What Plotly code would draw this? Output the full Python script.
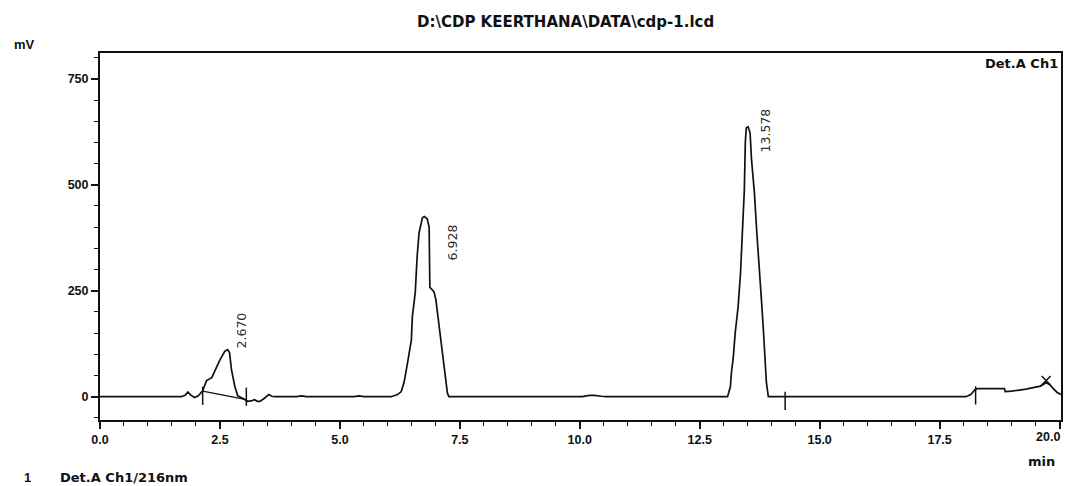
import numpy as np
import plotly.graph_objects as go

# chromatogram trace (time in min, signal in mV)
time_min = [0, 1.7, 1.78, 1.83, 1.9, 1.97, 2.05, 2.14, 2.22, 2.33, 2.43, 2.5, 2.6, 2.66, 2.7, 2.74,
            2.81, 2.87, 2.94, 3.0, 3.08, 3.15, 3.22, 3.28, 3.33, 3.4, 3.47, 3.52, 3.58, 3.65,
            4.1, 4.2, 4.3, 5.3, 5.4, 5.5,
            6.07, 6.2, 6.28, 6.34, 6.41, 6.49, 6.51, 6.57, 6.61, 6.65, 6.72, 6.76, 6.82, 6.86,
            6.875, 6.9, 6.96, 7.0, 7.07, 7.13, 7.19, 7.24, 7.27,
            10.05, 10.2, 10.3, 10.45, 10.55,
            13.08, 13.14, 13.16, 13.2, 13.24, 13.3, 13.35, 13.39, 13.43, 13.45, 13.47, 13.51,
            13.55, 13.58, 13.64, 13.69, 13.74, 13.79, 13.83, 13.86, 13.89, 13.93,
            18.05, 18.15, 18.23, 18.28, 18.85, 18.87, 19.0, 19.3, 19.6, 19.72, 19.8, 19.88,
            19.95, 20.03]
signal_mv = [0, 0, 4, 11, 3, -2, 2, 14, 38, 45, 70, 87, 107, 111, 104, 64,
             24, 2, -2, -6, -11, -10, -7, -11, -11, -6, 0, 5, 1, 0,
             0, 2, 0, 0, 2, 0,
             0, 5, 12, 35, 80, 134, 189, 245, 330, 387, 422, 425, 420, 400,
             258, 255, 248, 229, 165, 104, 57, 9, 0,
             0, 3, 3, 1, 0,
             0, 24, 56, 94, 151, 212, 292, 387, 488, 599, 634, 637,
             622, 559, 481, 387, 292, 222, 151, 87, 33, 0,
             0, 5, 16, 19, 19, 12, 13, 18, 25, 33, 28, 18,
             10, 5]

# peak retention times (labels)
peak_rt = [2.670, 6.928, 13.578]
peak_labels = ["2.670", "6.928", "13.578"]

# integration baseline drop for first peak
base_time = [2.14, 3.05]
base_mv = [13, -7]

# integration event marks
event_time = [2.14, 3.05, 14.28, 18.25]
event_mv = [2, 0, -10, 3]
end_mark_time = [19.72]
end_mark_mv = [38]

x_tickvals = [0.0, 2.5, 5.0, 7.5, 10.0, 12.5, 15.0, 17.5, 20.0]
y_tickvals = [0, 250, 500, 750]

FONT = "Liberation Sans, Arial, sans-serif"
WIDE = "DejaVu Sans, Verdana, sans-serif"
INK = "#111111"

fig = go.Figure()
fig.add_trace(go.Scatter(x=time_min, y=signal_mv, mode="lines",
                         line=dict(color=INK, width=1.7), showlegend=False, hoverinfo="skip"))
fig.add_trace(go.Scatter(x=base_time, y=base_mv, mode="lines",
                         line=dict(color=INK, width=1.2), showlegend=False, hoverinfo="skip"))
fig.add_trace(go.Scatter(x=event_time, y=event_mv, mode="markers",
                         marker=dict(symbol="line-ns", size=13, line=dict(color=INK, width=1.5)),
                         showlegend=False, hoverinfo="skip"))
fig.add_trace(go.Scatter(x=end_mark_time, y=end_mark_mv, mode="markers",
                         marker=dict(symbol="x-thin", size=9, line=dict(color=INK, width=1.5)),
                         showlegend=False, hoverinfo="skip"))

label_shift = [(13, 0), (20, 28), (14, 4)]
for rt, lab, (dx, dy) in zip(peak_rt, peak_labels, label_shift):
    yv = float(np.interp(rt, time_min, signal_mv))
    fig.add_annotation(x=rt, y=yv, text=lab, textangle=-90, showarrow=False,
                       xanchor="center", yanchor="bottom", xshift=dx, yshift=dy,
                       font=dict(family=WIDE, size=12.5, color="#2a2a2a"))

# tick text for x; the last label is drawn right-aligned at the edge like the reference
x_ticktext = ["<b>%.1f</b>" % v for v in x_tickvals]
last_label = x_ticktext[-1]
x_ticktext[-1] = ""

TXT = dict(family=FONT, size=13, color=INK)
WTXT = dict(family=WIDE, size=13, color=INK)
fig.add_annotation(xref="paper", x=1, y=0, yref="paper", yshift=-17, xshift=1, text=last_label,
                   showarrow=False, xanchor="right", yanchor="middle",
                   font=dict(family=FONT, size=12.5, color=INK))
fig.add_annotation(xref="paper", yref="paper", x=0.5, y=1, yshift=31, xshift=-15,
                   text="<b>D:\\CDP KEERTHANA\\DATA\\cdp-1.lcd</b>",
                   showarrow=False, xanchor="center", yanchor="middle",
                   font=dict(family=WIDE, size=15, color=INK))
fig.add_annotation(xref="paper", yref="paper", x=0, y=1, xshift=-76, yshift=9, text="<b>mV</b>",
                   showarrow=False, xanchor="center", yanchor="middle", font=TXT)
fig.add_annotation(xref="paper", yref="paper", x=1, y=0, xshift=-4, yshift=-41, text="<b>min</b>",
                   showarrow=False, xanchor="right", yanchor="middle", font=WTXT)
fig.add_annotation(xref="paper", yref="paper", x=1, y=1, xshift=-1, yshift=-10, text="<b>Det.A Ch1</b>",
                   showarrow=False, xanchor="right", yanchor="middle", font=WTXT)
fig.add_annotation(xref="paper", yref="paper", x=0, y=0, xshift=-78, yshift=-57, text="<b>1</b>",
                   showarrow=False, xanchor="left", yanchor="middle", font=TXT)
fig.add_annotation(xref="paper", yref="paper", x=0, y=0, xshift=-42, yshift=-57, text="<b>Det.A Ch1/216nm</b>",
                   showarrow=False, xanchor="left", yanchor="middle", font=WTXT)

fig.update_layout(
    width=1065, height=486,
    margin=dict(l=100, r=2, t=53, b=66),
    paper_bgcolor="white", plot_bgcolor="white",
    font=dict(family=FONT, size=12, color=INK),
)
fig.update_xaxes(range=[0, 20.03], showgrid=False, zeroline=False,
                 showline=True, linecolor=INK, linewidth=2, mirror=True,
                 ticks="outside", ticklen=7, tickwidth=1.5, tickcolor=INK,
                 tickvals=x_tickvals, ticktext=x_ticktext,
                 tickfont=dict(family=FONT, size=12.5, color=INK),
                 minor=dict(dtick=0.5, ticks="outside", ticklen=4, tickwidth=1.2, tickcolor=INK))
fig.update_yaxes(range=[-55, 811], showgrid=False, zeroline=False,
                 showline=True, linecolor=INK, linewidth=2, mirror=True,
                 ticks="outside", ticklen=7, tickwidth=1.5, tickcolor=INK,
                 tickvals=y_tickvals, ticktext=["<b>%d</b>" % v for v in y_tickvals],
                 tickfont=dict(family=FONT, size=12.5, color=INK),
                 minor=dict(dtick=50, ticks="outside", ticklen=4, tickwidth=1.2, tickcolor=INK))

# remove the default 8px page margin so the 1065x486 figure fills the window exactly
fig.write_html("out.html", config={"displayModeBar": False},
               post_script="document.body.style.margin='0';document.body.style.overflow='hidden';")
